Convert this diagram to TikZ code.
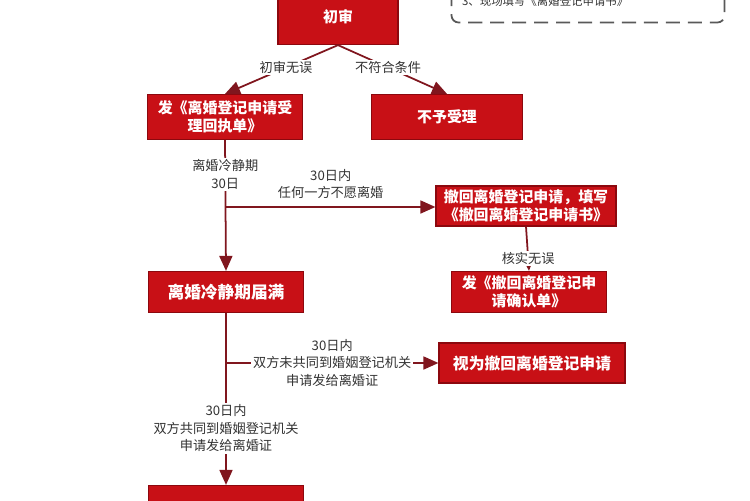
\documentclass[tikz,border=0pt]{standalone}
\usepackage{fontspec}
\setmainfont{Noto Sans CJK SC}
\usepackage{xcolor}
\usepackage{tikz}
\usetikzlibrary{arrows.meta, positioning, calc}
\definecolor{boxred}{RGB}{200,16,22}
\definecolor{boxedge}{RGB}{140,8,14}
\definecolor{linered}{RGB}{128,22,30}

\begin{document}
\begin{tikzpicture}[
  x=0.02cm, y=-0.02cm,
  bx/.style={rectangle, draw=boxedge, fill=boxred, line width=0.7pt,
             text=white, align=center, inner sep=2pt,
             font=\fontsize{8.5}{10.5}\selectfont\bfseries,
             minimum width=3.1cm, minimum height=0.82cm},
  note/.style={rectangle, draw=black!65, line width=1pt, rounded corners=4pt,
               dash pattern=on 8pt off 4.5pt,
               minimum width=5.46cm, minimum height=1.06cm},
  ar/.style={-{Triangle[length=3mm, width=2.6mm]}, line width=1pt, linered},
  el/.style={font=\fontsize{7.5}{10}\selectfont, text=black!80,
             align=center, fill=white, inner sep=1pt}
]
\useasboundingbox (0,0) rectangle (750,500);
\clip (0,0) rectangle (750,500);

%  Top 
\node[bx, minimum width=2.4cm, minimum height=1.1cm] (shen) at (338,17) {初审};
\node[note] (tip) at (588,-4) {};
\node[el, fill=none, font=\fontsize{6.5}{8}\selectfont, anchor=west] (tiptext)
      at (460,1) {3、现场填写《离婚登记申请书》};

%  Acceptance 
\node[bx, minimum height=0.9cm] (hz) at (225,117)
      {发《离婚登记申请受\\理回执单》};
\node[bx, minimum width=3.02cm, minimum height=0.9cm] (bsl) at (447,117)
      {不予受理};

%  Cooling-off period 
\node[bx, minimum width=3.6cm, minimum height=0.78cm] (ch) at (526,206)
      {撤回离婚登记申请，填写\\《撤回离婚登记申请书》};
\node[bx] (qr) at (529,292) {发《撤回离婚登记申\\请确认单》};
\node[bx, font=\fontsize{9.5}{11}\selectfont\bfseries] (mm) at (226,292)
      {离婚冷静期届满};
\node[bx, minimum width=3.72cm, minimum height=0.8cm,
      font=\fontsize{9}{11}\selectfont\bfseries] (sw) at (532,363)
      {视为撤回离婚登记申请};
\node[bx] (last) at (226,506) {};

\coordinate (b1) at (226,207);
\coordinate (b2) at (226,363);

%  Connections 
\draw[ar] (shen.south) -- node[el, pos=0.46]{初审无误} (hz.north);
\draw[ar] (shen.south) -- node[el, pos=0.46]{不符合条件} (bsl.north);
\draw[ar] (hz.south) -- node[el, pos=0.26]{离婚冷静期\\30日} (mm.north);
\draw[ar] (b1) -- node[el, midway, above=3pt, fill=none]
      {30日内\\任何一方不愿离婚} (b1 -| ch.west);
\draw[ar] (ch.south) -- node[el, pos=0.72]{核实无误} (qr.north);
\draw[ar] (mm.south) -- node[el, pos=0.67]
      {30日内\\双方共同到婚姻登记机关\\申请发给离婚证} (last.north);
\draw[ar] (b2) -- node[el, midway]
      {30日内\\双方未共同到婚姻登记机关\\申请发给离婚证} (b2 -| sw.west);
\end{tikzpicture}
\end{document}
